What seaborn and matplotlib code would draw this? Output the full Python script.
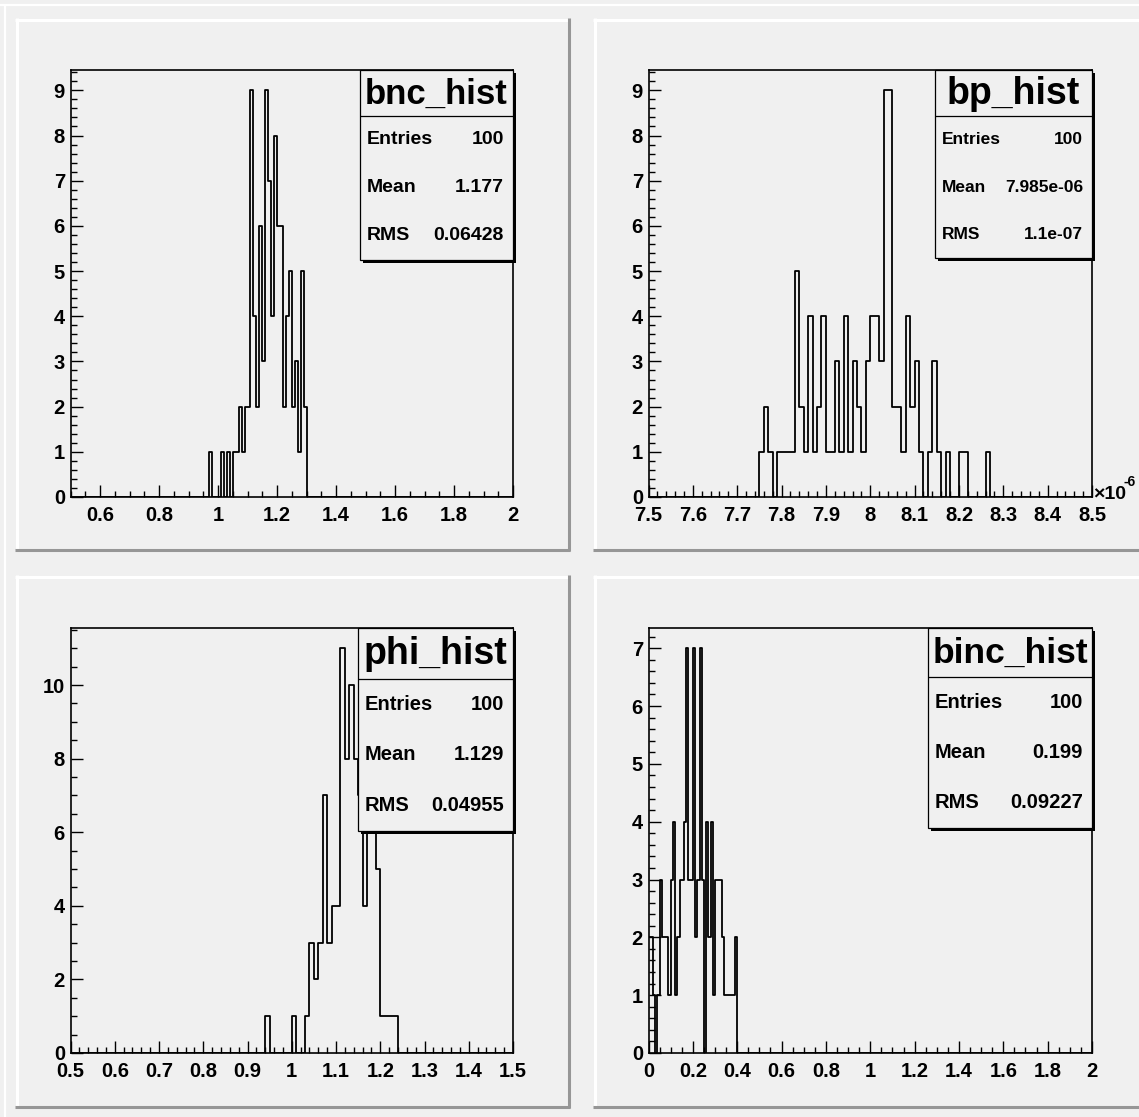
import numpy as np
import pandas as pd
import matplotlib
matplotlib.use("Agg")
import matplotlib.pyplot as plt
import seaborn as sns
from matplotlib.patches import Rectangle
from matplotlib.lines import Line2D
from matplotlib.ticker import MultipleLocator, FuncFormatter

# ---------------- data (bin centres, counts) ----------------
bnc_x = [0.975, 1.015, 1.035, 1.055, 1.065, 1.075, 1.085, 1.095, 1.105,
         1.115, 1.125, 1.135, 1.145, 1.155, 1.165, 1.175, 1.185, 1.195,
         1.205, 1.215, 1.225, 1.235, 1.245, 1.255, 1.265, 1.275, 1.285, 1.295]
bnc_n = [1, 1, 1, 1, 1, 2, 1, 2, 2,
         9, 4, 2, 6, 3, 9, 7, 4, 8,
         6, 6, 2, 4, 5, 2, 3, 1, 5, 2]

# bp values in units of 1e-6
bp_x = [7.755, 7.765, 7.775, 7.795, 7.805, 7.815, 7.825, 7.835, 7.845, 7.855,
        7.865, 7.875, 7.885, 7.895, 7.905, 7.915, 7.925, 7.935, 7.945, 7.955,
        7.965, 7.975, 7.985, 7.995, 8.005, 8.015, 8.025, 8.035, 8.045, 8.055,
        8.065, 8.075, 8.085, 8.095, 8.105, 8.115, 8.135, 8.145, 8.155, 8.175,
        8.205, 8.215, 8.265]
bp_n = [1, 2, 1, 1, 1, 1, 1, 5, 2, 1,
        4, 1, 2, 4, 1, 1, 3, 1, 4, 1,
        3, 2, 1, 3, 4, 4, 3, 9, 9, 2,
        2, 1, 4, 2, 3, 1, 1, 3, 1, 1,
        1, 1, 1]

phi_x = [0.945, 1.005, 1.035, 1.045, 1.055, 1.065, 1.075, 1.085, 1.095, 1.105,
         1.115, 1.125, 1.135, 1.145, 1.155, 1.165, 1.175, 1.185, 1.195, 1.205,
         1.215, 1.225, 1.235]
phi_n = [1, 1, 1, 3, 2, 3, 7, 3, 4, 4,
         11, 8, 10, 8, 7, 4, 7, 7, 5, 1,
         1, 1, 1]

binc_x = [0.005, 0.015, 0.025, 0.045, 0.055, 0.065, 0.075, 0.085, 0.095, 0.105,
          0.115, 0.125, 0.135, 0.145, 0.155, 0.165, 0.175, 0.185, 0.195, 0.205,
          0.215, 0.225, 0.235, 0.245, 0.265, 0.275, 0.285, 0.295, 0.305, 0.315,
          0.325, 0.335, 0.345, 0.355, 0.365, 0.375, 0.385, 0.395]
binc_n = [2, 2, 1, 1, 3, 2, 2, 2, 1, 3,
          4, 1, 2, 3, 3, 4, 7, 3, 3, 7,
          2, 3, 7, 3, 4, 2, 4, 1, 3, 3,
          3, 2, 1, 1, 1, 1, 1, 2]

titles = ["bnc_hist", "bp_hist", "phi_hist", "binc_hist"]
stat_entries = ["100", "100", "100", "100"]
stat_mean = ["1.177", "7.985e-06", "1.129", "0.199"]
stat_rms = ["0.06428", "1.1e-07", "0.04955", "0.09227"]

# ---------------- style ----------------
sns.set_style("white")
plt.rcParams['font.family'] = ['Liberation Sans', 'DejaVu Sans']
plt.rcParams['font.weight'] = 'bold'
plt.rcParams['text.color'] = 'black'
plt.rcParams['xtick.color'] = 'black'
plt.rcParams['ytick.color'] = 'black'
plt.rcParams['axes.edgecolor'] = 'black'

W, H = 1139, 1117
BG = '#f0f0f0'
fig = plt.figure(figsize=(W / 100, H / 100), dpi=100)
fig.patch.set_facecolor(BG)


def fx(x):
    return x / W


def fy(y):
    return 1 - y / H


def fline(x0, y0, x1, y1, color, lw, z=1):
    fig.add_artist(Line2D([fx(x0), fx(x1)], [fy(y0), fy(y1)], color=color,
                          lw=lw, transform=fig.transFigure, zorder=z,
                          solid_capstyle='butt'))


# canvas bevel
fline(0, 5, W, 5, 'white', 1.6, -2)
fline(5, 5, 5, H, 'white', 1.6, -2)


def draw_pad(x0, y0, x1, y1):
    fig.add_artist(Rectangle((fx(x0), fy(y1)), (x1 - x0) / W, (y1 - y0) / H,
                             transform=fig.transFigure, facecolor=BG,
                             edgecolor='none', zorder=-1))
    fline(x0, y0 + 1.5, x1, y0 + 1.5, 'white', 2.2, -0.5)
    fline(x0 + 1.5, y0, x0 + 1.5, y1, 'white', 2.2, -0.5)
    fline(x0, y1 - 1.5, x1, y1 - 1.5, '#969696', 2.2, -0.5)
    fline(x1 - 1.5, y0, x1 - 1.5, y1, '#969696', 2.2, -0.5)


def draw_stats(box, title, tsize, rsize, entries, mean, rms):
    l, t, r, b, sep = box
    # shadow
    fig.add_artist(Rectangle((fx(l + 3), fy(b + 3)), (r - l) / W, (b - t) / H,
                             transform=fig.transFigure, facecolor='black',
                             edgecolor='none', zorder=5))
    fig.add_artist(Rectangle((fx(l), fy(b)), (r - l) / W, (b - t) / H,
                             transform=fig.transFigure, facecolor=BG,
                             edgecolor='black', lw=0.9, zorder=6))
    fline(l, sep, r, sep, 'black', 0.9, 7)
    fig.text(fx((l + r) / 2), fy((t + sep) / 2 + 1), title, ha='center',
             va='center', fontsize=tsize, fontweight='bold', color='black',
             zorder=8)
    rows = [("Entries", entries), ("Mean", mean), ("RMS", rms)]
    rh = (b - sep) / 3
    for k, (lab, val) in enumerate(rows):
        yc = sep + (k + 0.5) * rh
        fig.text(fx(l + 7), fy(yc), lab, ha='left', va='center',
                 fontsize=rsize, fontweight='bold', color='black', zorder=8)
        fig.text(fx(r - 9), fy(yc), val, ha='right', va='center',
                 fontsize=rsize, fontweight='bold', color='black', zorder=8)


fmt = FuncFormatter(lambda v, p: f"{round(v, 6):g}")

panels = [
    dict(pad=(15, 18, 570, 551), ax=(70.5, 70, 513, 497),
         x=bnc_x, n=bnc_n, bins=150, xr=(0.5, 2.0), ymax=9.45,
         xmaj=0.2, xmin=0.05, ymaj=1, ymin=0.2,
         box=(360, 70, 513, 260, 116), tsize=25, rsize=14),
    dict(pad=(593, 18, 1148, 551), ax=(648.5, 70, 1092, 497),
         x=bp_x, n=bp_n, bins=100, xr=(7.5, 8.5), ymax=9.45,
         xmaj=0.1, xmin=0.02, ymaj=1, ymin=0.2,
         box=(935, 70, 1092, 258, 116), tsize=27, rsize=12.5),
    dict(pad=(15, 575, 570, 1108), ax=(70.5, 628, 513, 1053),
         x=phi_x, n=phi_n, bins=100, xr=(0.5, 1.5), ymax=11.55,
         xmaj=0.1, xmin=0.02, ymaj=2, ymin=0.5,
         box=(358, 628, 513, 831, 679), tsize=27, rsize=14.5),
    dict(pad=(593, 575, 1148, 1108), ax=(648.5, 628, 1092, 1053),
         x=binc_x, n=binc_n, bins=200, xr=(0.0, 2.0), ymax=7.35,
         xmaj=0.2, xmin=0.05, ymaj=1, ymin=0.2,
         box=(928, 628, 1092, 828, 677), tsize=25.5, rsize=14.5),
]

for i, P in enumerate(panels):
    draw_pad(*P['pad'])
    x0, y0, x1, y1 = P['ax']
    ax = fig.add_axes([fx(x0), fy(y1), (x1 - x0) / W, (y1 - y0) / H])
    ax.set_facecolor('none')
    df = pd.DataFrame({'v': P['x'], 'w': P['n']})
    sns.histplot(data=df, x='v', weights='w', bins=P['bins'], binrange=P['xr'],
                 element='step', fill=False, color='black', linewidth=1.3,
                 ax=ax)
    ax.set_xlim(*P['xr'])
    ax.set_ylim(0, P['ymax'])
    ax.set_xlabel('')
    ax.set_ylabel('')
    for s in ax.spines.values():
        s.set_visible(True)
        s.set_color('black')
        s.set_linewidth(1.2)
    ax.xaxis.set_major_locator(MultipleLocator(P['xmaj']))
    ax.xaxis.set_minor_locator(MultipleLocator(P['xmin']))
    ax.yaxis.set_major_locator(MultipleLocator(P['ymaj']))
    ax.yaxis.set_minor_locator(MultipleLocator(P['ymin']))
    ax.xaxis.set_major_formatter(fmt)
    ax.yaxis.set_major_formatter(fmt)
    ax.tick_params(axis='both', which='both', direction='in', top=False,
                   right=False, bottom=True, left=True, width=1.0,
                   labelsize=14.5, colors='black')
    ax.tick_params(axis='both', which='major', length=8.8)
    ax.tick_params(axis='both', which='minor', length=4.6)
    ax.tick_params(axis='x', which='major', pad=6.5)
    ax.tick_params(axis='y', which='major', pad=4)
    for lab in ax.get_xticklabels() + ax.get_yticklabels():
        lab.set_fontweight('bold')
    draw_stats(P['box'], titles[i], P['tsize'], P['rsize'],
               stat_entries[i], stat_mean[i], stat_rms[i])

# exponent label for bp_hist axis
fig.text(fx(1093), fy(499), "\u00d710", ha='left', va='baseline',
         fontsize=14, fontweight='bold', color='black')
fig.text(fx(1124), fy(486), "-6", ha='left', va='baseline',
         fontsize=10, fontweight='bold', color='black')

fig.savefig("out.png", dpi=100, facecolor=BG)
